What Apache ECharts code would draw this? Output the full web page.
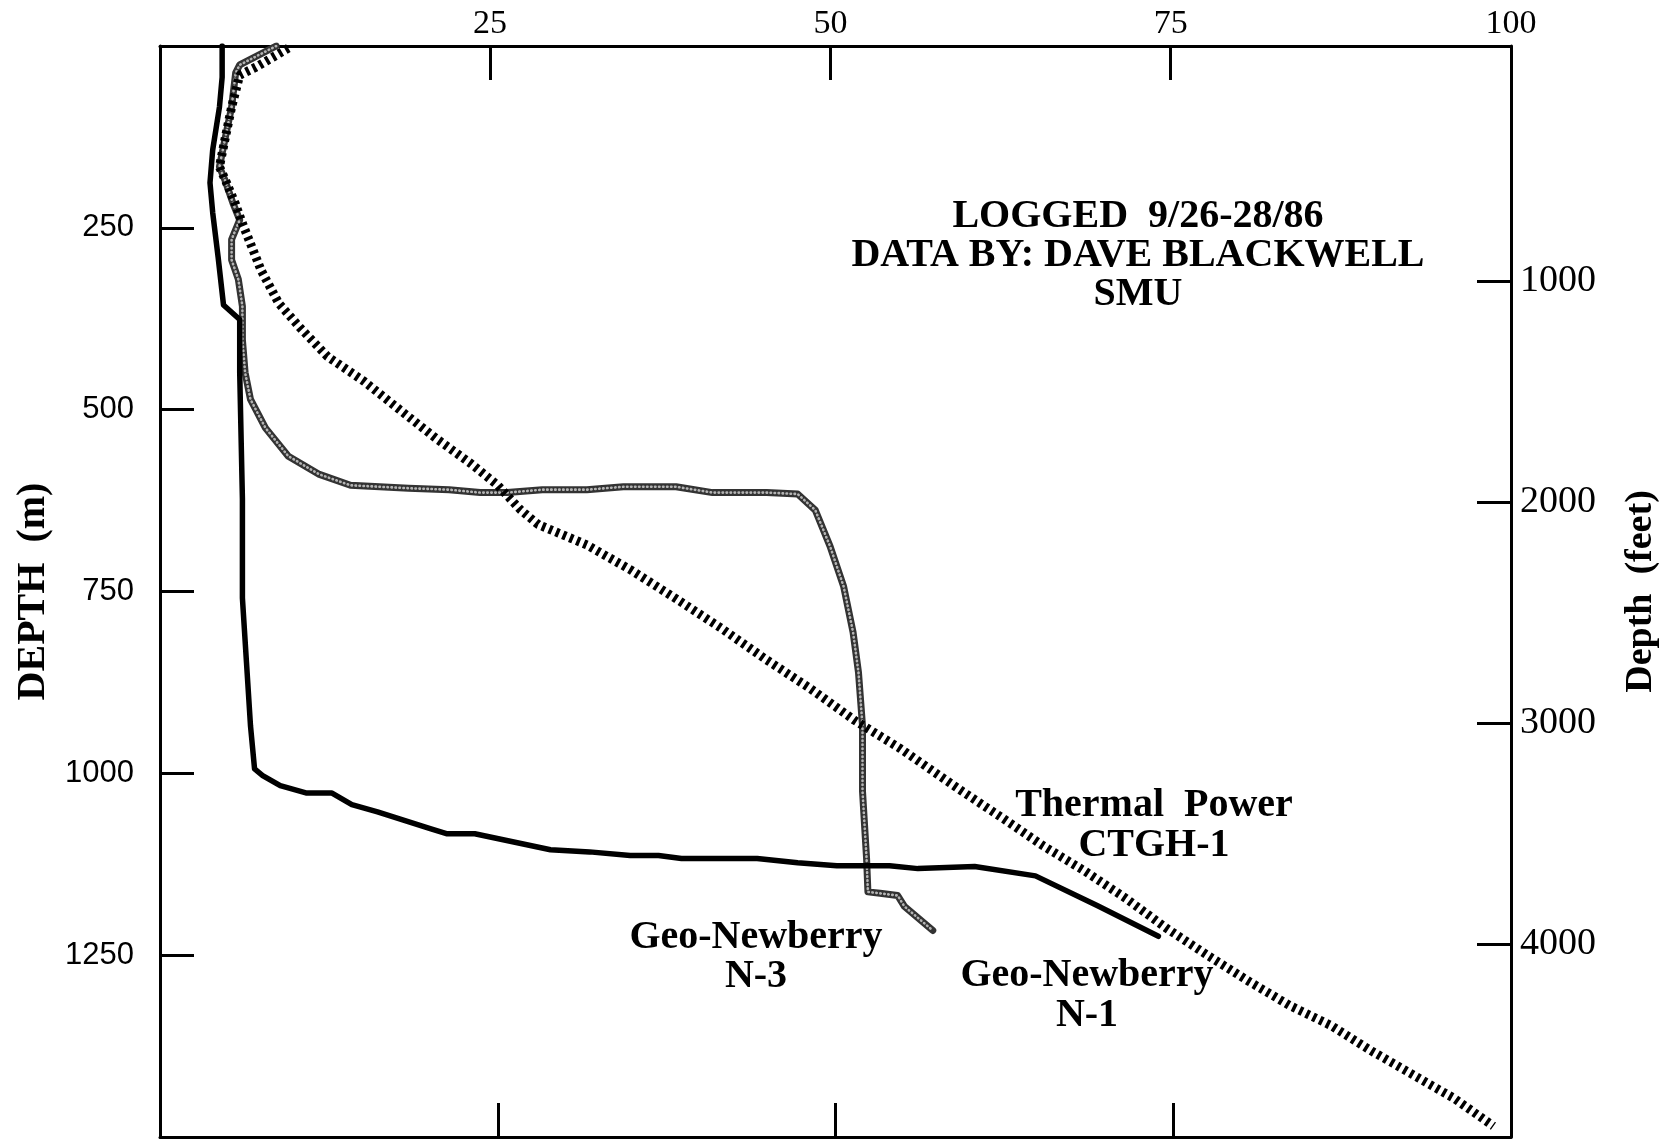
<!DOCTYPE html>
<html><head><meta charset="utf-8">
<script src="https://cdn.jsdelivr.net/npm/echarts@6/dist/echarts.min.js"></script>
<style>html,body{margin:0;padding:0;background:#fff}#c{width:1677px;height:1139px}</style>
</head><body><div id="c"></div>
<script>
// ---- tick labels ----
const tempTicks = [25, 50, 75, 100];
const depthTicksM = [250, 500, 750, 1000, 1250];
const depthTicksFt = [1000, 2000, 3000, 4000];

// ---- Geo-Newberry N-1 (temperature, depth m) ----
const n1Temp  = [4.6,4.6,4.4,3.9,3.7,3.9,4.3,4.7,5.9,5.9,6.1,6.1,6.4,6.7,7.0,7.6,8.9,10.8,12.7,14.2,16.1,20.0,21.2,23.3,28.9,31.8,34.8,36.9,38.6,44.2,47.2,50.1,54.0,56.1,60.3,64.8,69.4,73.9];
const n1Depth = [0,43,84,143,188,229,290,356,376,449,623,759,847,935,994,1003,1017,1027,1027,1043,1053,1076,1083,1083,1105,1108,1113,1113,1117,1117,1123,1127,1127,1131,1128,1141,1182,1224];

// ---- Geo-Newberry N-3 ----
const n3Temp  = [8.6,5.9,5.6,5.3,4.8,4.4,4.8,5.4,5.9,5.3,5.3,5.8,6.1,6.1,6.3,6.7,7.8,9.5,11.8,14.1,18.4,21.4,23.7,25.7,28.3,31.6,34.3,38.2,40.9,44.9,47.2,48.5,49.6,50.6,51.3,51.7,52.0,52.0,52.3,52.4,53.3,54.6,55.1,57.2];
const n3Depth = [0,26,37,84,129,166,184,216,239,266,294,321,358,404,449,486,525,564,589,604,608,610,614,614,610,610,606,606,614,614,616,638,688,743,806,861,935,1025,1117,1163,1165,1168,1183,1216];

// ---- Thermal Power CTGH-1 ----
const tpTemp  = [9.5,7.1,5.9,5.3,4.8,4.4,4.9,5.6,6.1,7.5,8.8,10.4,12.4,15.1,17.8,20.4,23.0,25.0,26.7,28.0,31.6,34.9,38.2,41.5,44.9,48.1,51.4,54.8,59.4,62.4,65.4,68.5,71.5,74.5,77.6,80.6,83.6,86.7,89.7,92.8,95.8,98.7];
const tpDepth = [3,29,40,84,129,166,187,218,244,309,354,388,427,461,501,539,574,604,638,658,686,721,760,800,844,883,927,966,1025,1062,1100,1135,1172,1213,1251,1286,1319,1347,1382,1415,1447,1485];

const pairs = (xs, ys) => xs.map((x, i) => [x, ys[i]]);

const chart = echarts.init(document.getElementById('c'), null, {renderer: 'canvas'});
const axisLine = {show: true, onZero: false, lineStyle: {color: '#000', width: 3}};
const tick = {show: true, inside: true, length: 34, lineStyle: {color: '#000', width: 3}};
const serif = '"Liberation Serif","Times New Roman",serif';
const plain = v => String(v);

chart.setOption({
  animation: false,
  backgroundColor: '#fff',
  grid: {left: 160, top: 46, width: 1351, height: 1091, show: false},
  xAxis: [
    {type: 'value', position: 'bottom', min: 0, max: 100, interval: 25,
     axisLine: axisLine, axisTick: tick, axisLabel: {show: false}, splitLine: {show: false}},
    {type: 'value', position: 'top', min: 0.75, max: 100,
     axisLine: axisLine,
     axisTick: Object.assign({}, tick, {customValues: tempTicks}),
     axisLabel: {customValues: tempTicks, formatter: plain, margin: 5, color: '#000', fontFamily: serif, fontSize: 34},
     splitLine: {show: false}}
  ],
  yAxis: [
    {type: 'value', position: 'left', inverse: true, min: 0, max: 1500,
     axisLine: axisLine,
     axisTick: Object.assign({}, tick, {customValues: depthTicksM}),
     axisLabel: {customValues: depthTicksM, formatter: plain, margin: 26, color: '#000', fontFamily: '"Liberation Sans",Arial,sans-serif', fontSize: 31},
     splitLine: {show: false},
     name: 'DEPTH  (m)', nameLocation: 'middle', nameRotate: 90, nameGap: 106,
     nameTextStyle: {color: '#000', fontFamily: serif, fontWeight: 'bold', fontSize: 40}},
    {type: 'value', position: 'right', inverse: true, min: -63, max: 4873,
     axisLine: axisLine,
     axisTick: Object.assign({}, tick, {customValues: depthTicksFt}),
     axisLabel: {customValues: depthTicksFt, formatter: plain, margin: 9, color: '#000', fontFamily: serif, fontSize: 38},
     splitLine: {show: false},
     name: 'Depth  (feet)', nameLocation: 'middle', nameRotate: 90, nameGap: 111,
     nameTextStyle: {color: '#000', fontFamily: serif, fontWeight: 'bold', fontSize: 38}}
  ],
  series: [
    {name: 'Geo-Newberry N-3', type: 'line', data: pairs(n3Temp, n3Depth), showSymbol: false, silent: true,
     lineStyle: {color: '#333', width: 7, join: 'round', cap: 'round'}, z: 2},
    {name: 'Geo-Newberry N-3 beads', type: 'line', data: pairs(n3Temp, n3Depth), showSymbol: false, silent: true,
     lineStyle: {color: '#b4b4b4', width: 2.6, type: [0.5, 3.5], cap: 'round', join: 'round'}, z: 3},
    {name: 'Thermal Power CTGH-1', type: 'line', data: pairs(tpTemp, tpDepth), showSymbol: false, silent: true,
     lineStyle: {color: '#000', width: 9, type: [3.5, 4], cap: 'butt'}, z: 4},
    {name: 'Geo-Newberry N-1', type: 'line', data: pairs(n1Temp, n1Depth), showSymbol: false, silent: true,
     lineStyle: {color: '#000', width: 5.5, join: 'round', cap: 'round'}, z: 5}
  ],
  graphic: [
    {type: 'text', x: 1138, y: 197, silent: true,
     style: {text: 'LOGGED  9/26-28/86\nDATA BY: DAVE BLACKWELL\nSMU', textAlign: 'center', textVerticalAlign: 'top',
             lineHeight: 39, font: 'bold 40px ' + serif, fill: '#000'}},
    {type: 'text', x: 1154, y: 786, silent: true,
     style: {text: 'Thermal  Power\nCTGH-1', textAlign: 'center', textVerticalAlign: 'top',
             lineHeight: 40, font: 'bold 40px ' + serif, fill: '#000'}},
    {type: 'text', x: 756, y: 918, silent: true,
     style: {text: 'Geo-Newberry\nN-3', textAlign: 'center', textVerticalAlign: 'top',
             lineHeight: 39, font: 'bold 40px ' + serif, fill: '#000'}},
    {type: 'text', x: 1087, y: 956, silent: true,
     style: {text: 'Geo-Newberry\nN-1', textAlign: 'center', textVerticalAlign: 'top',
             lineHeight: 40, font: 'bold 40px ' + serif, fill: '#000'}}
  ]
});
</script></body></html>
